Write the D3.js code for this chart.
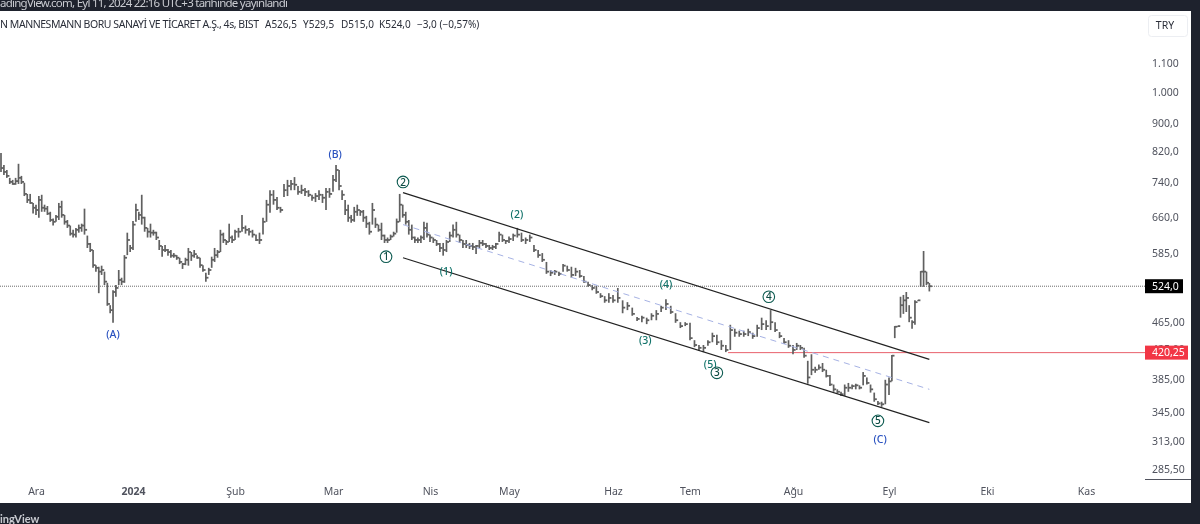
<!DOCTYPE html>
<html>

<head>
    <meta charset="utf-8">
    <script src="https://cdnjs.cloudflare.com/ajax/libs/d3/7.8.5/d3.min.js"></script>
</head>
<style>
    html, body { margin: 0; padding: 0; background: #fff; }
    svg { display: block; font-family: "Noto Sans", sans-serif; filter: blur(0.3px); }
</style>

<body>
    <script type="text/javascript">
        // 4h bars
        var highs = [
            816,784,771,751,746,751,787,756,739,712,712,691,
            687,707,710,687,684,671,656,664,691,696,664,653,641,632,636,643,645,678,620,605,591,562,559,561,550,530,492,517,526,553,539,581,626,601,
            651,689,671,710,660,636,645,632,628,611,599,601,593,591,585,581,576,566,576,595,587,591,581,576,562,548,557,578,595,591,632,626,611,645,620,
            632,636,664,641,636,632,622,626,658,698,721,721,705,682,736,746,746,753,731,734,726,721,710,714,721,712,726,726,
            758,784,771,721,698,687,664,682,687,675,675,662,649,691,658,643,647,622,616,622,628,656,712,687,671,653,643,618,616,620,649,647,
            622,616,611,605,605,611,628,643,649,622,611,611,605,605,601,611,611,605,601,601,605,628,622,611,
            618,624,636,626,616,622,601,591,585,568,553,553,550,564,561,559,557,553,542,532,526,525,512,507,512,
            509,521,500,497,488,473,475,472,479,484,491,502,491,479,465,465,
            464,438,431,431,438,449,446,438,431,461,455,452,452,455,449,461,472,468,484,465,450,441,438,
            431,434,431,427,409,418,401,404,406,397,390,378,372,369,378,380,378,379,377,394,387,378,368,358,357,384,
            387,417,459,459,506,509,514,492,468,500,500,551,589,550,529.5
        ];
        var lows = [
            766,758,751,736,734,734,736,736,707,691,689,667,
            664,658,671,671,664,649,641,649,653,658,643,636,620,616,616,626,628,622,595,587,557,550,512,544,526,491,479,464,506,526,526,530,581,587,
            591,649,653,643,628,616,616,620,611,591,578,587,580,576,576,572,564,555,562,561,570,576,574,557,550,532,544,557,568,576,587,605,601,607,605,
            611,616,628,624,620,616,609,603,622,649,669,687,675,669,705,707,721,721,710,712,707,705,696,693,698,691,675,703,
            717,741,721,698,664,649,647,649,662,662,649,636,622,643,636,628,611,605,605,611,618,626,649,658,643,622,611,605,605,605,611,616,
            607,605,599,587,580,587,607,616,616,605,595,595,593,591,583,595,599,595,591,591,593,607,607,603,
            605,609,616,607,603,607,587,576,568,546,542,544,542,550,550,539,542,539,530,523,517,511,504,496,496,
            496,496,479,484,475,467,465,462,468,468,481,484,478,464,456,459,
            438,428,423,421,430,435,431,424,421,424,443,443,443,444,440,443,453,453,453,450,441,433,427,
            418,424,424,413,379,390,393,397,394,387,376,369,367,364,364,369,372,372,372,377,378,368,357,353,351,354,
            365,382,441,458,472,478,481,465,455,461,499,523,523,526,515
        ];
        var closes = [
            776,766,756,741,736,743,751,741,712,698,691,680,
            675,698,680,678,667,653,649,660,682,664,649,641,624,622,632,636,641,632,603,591,562,557,550,553,532,494,484,514,521,535,532,576,611,595,
            643,675,664,658,636,628,626,626,616,599,591,591,587,580,580,576,568,564,572,587,580,583,576,562,553,539,553,572,581,587,622,611,607,616,611,
            628,628,636,632,628,622,611,611,649,687,710,698,680,675,721,731,736,734,717,721,717,710,703,707,710,703,717,712,
            746,771,731,710,675,658,653,671,675,671,658,645,628,675,643,632,620,611,611,618,624,649,687,664,649,632,616,611,611,616,636,622,
            616,611,603,595,591,607,620,632,622,611,603,601,599,597,599,605,603,599,595,597,603,622,611,609,
            613,620,622,611,611,616,591,581,572,550,548,550,546,561,553,544,550,542,532,526,521,514,507,500,504,
            500,504,488,491,478,470,472,468,475,478,488,494,481,468,459,462,
            441,431,427,427,435,444,435,430,424,453,449,447,447,450,444,456,462,459,465,453,444,435,430,
            424,430,427,416,387,397,397,400,397,389,378,372,369,366,374,374,376,377,374,389,380,372,360,355,354,378,
            382,416,458,459,492,500,504,472,465,497,500,550,550,530,524
        ];

        var monthLabels = ["Ara", "2024", "Şub", "Mar", "Nis", "May", "Haz", "Tem", "Ağu", "Eyl", "Eki", "Kas"];
        var monthBars = [12, 46, 81, 109, 141, 165, 190, 206, 229, 255, 289, 323];

        var priceTicks = [1100, 1000, 900, 820, 740, 660, 585, 465, 425, 385, 345, 313, 285.5];
        var priceTickLabels = ["1.100", "1.000", "900,0", "820,0", "740,0", "660,0", "585,0", "465,00", "425,00", "385,00", "345,00", "313,00", "285,50"];

        var lastPrice = 524, lastPriceLabel = "524,0";
        var levelPrice = 420.25, levelPriceLabel = "420,25", levelStartBar = 214.5;

        // channel: [bar, price] at both ends
        var channelUpper = [[132.1, 715], [269, 411]];
        var channelLower = [[132.1, 576], [269, 333]];
        var channelMiddle = [[132.1, 643], [269, 372]];

        // elliott wave marks
        var waveTexts = ["(A)", "(B)", "1", "2", "(2)", "(1)", "(4)", "(3)", "(5)", "3", "4", "5", "(C)"];
        var waveBars = [39, 109.7, 126.5, 132.1, 166.9, 145.9, 201, 196.7, 210.5, 212, 223.6, 252, 252.6];
        var wavePrices = [447, 813, 578, 741, 666, 551, 527, 438, 405, 393, 506, 335, 315.5];

        var titleName = "N MANNESMANN BORU SANAYİ VE TİCARET A.Ş., 4s, BIST";
        var titleValues = ["A526,5", "Y529,5", "D515,0", "K524,0", "−3,0 (−0,57%)"];
        var titleValueX = [265, 303, 341, 379, 417];
        var publishedText = "adingView.com, Eyl 11, 2024 22:16 UTC+3 tarihinde yayınlandı";

        var width = 1200, height = 524;
        var paneRight = 1145, frameRight = 1191, frameTop = 11, frameBottom = 503;

        var svg = d3.select("body").append("svg")
            .attr("width", width)
            .attr("height", height);

        // bar index -> pixel, the axis only has trading bars so months are not equal
        var x = d3.scaleLinear()
            .domain([0].concat(monthBars))
            .range([1, 36, 133, 235, 333, 430, 509, 613, 690, 793, 889, 987, 1086]);
        var y = d3.scaleLog().domain([285.5, 1100]).range([469, 63]);

        svg.append("rect").attr("width", width).attr("height", height).attr("fill", "#1e222d");
        svg.append("rect")
            .attr("x", 0).attr("y", frameTop)
            .attr("width", frameRight).attr("height", frameBottom - frameTop)
            .attr("fill", "#fff");

        svg.append("text")
            .attr("x", 0).attr("y", 7)
            .attr("font-size", 11.5)
            .attr("fill", "#c9cbd1")
            .attr("textLength", 288)
            .text(publishedText);
        // published line is cut by the white pane
        svg.append("rect")
            .attr("x", 0).attr("y", frameTop)
            .attr("width", frameRight).attr("height", 10)
            .attr("fill", "#fff");

        svg.append("text")
            .attr("x", 0).attr("y", 24)
            .attr("font-size", 10.5)
            .attr("fill", "#2a2e39")
            .attr("dy", "0.35em")
            .attr("textLength", 259)
            .text(titleName);
        svg.selectAll(".titleValue").data(titleValues).enter().append("text")
            .attr("class", "titleValue")
            .attr("x", function (d, i) { return titleValueX[i]; })
            .attr("y", 24)
            .attr("dy", "0.35em")
            .attr("font-size", 10)
            .attr("fill", "#2a2e39")
            .text(function (d) { return d; });

        // last price line
        svg.append("line")
            .attr("x1", 0).attr("x2", paneRight)
            .attr("y1", y(lastPrice)).attr("y2", y(lastPrice))
            .attr("stroke", "#6b6b6b")
            .attr("stroke-dasharray", "1,1");

        // level line
        svg.append("line")
            .attr("x1", x(levelStartBar)).attr("x2", paneRight)
            .attr("y1", y(levelPrice)).attr("y2", y(levelPrice))
            .attr("stroke", "#e8616c");

        // bars
        var bars = svg.append("g").attr("stroke", "#606060");
        bars.selectAll(".stem").data(highs).enter().append("line")
            .attr("class", "stem")
            .attr("x1", function (d, i) { return x(i); })
            .attr("x2", function (d, i) { return x(i); })
            .attr("y1", function (d) { return y(d); })
            .attr("y2", function (d, i) { return y(lows[i]); })
            .attr("stroke-width", 1.7);
        bars.selectAll(".closeTick").data(closes).enter().append("line")
            .attr("class", "closeTick")
            .attr("x1", function (d, i) { return x(i); })
            .attr("x2", function (d, i) { return x(i) + 2.6; })
            .attr("y1", function (d) { return y(d); })
            .attr("y2", function (d) { return y(d); })
            .attr("stroke-width", 1.8);

        // channel
        var channelLine = d3.line()
            .x(function (d) { return x(d[0]); })
            .y(function (d) { return y(d[1]); });
        svg.append("path").attr("d", channelLine(channelMiddle))
            .attr("fill", "none")
            .attr("stroke", "#a6b2e4")
            .attr("stroke-dasharray", "6,5");
        svg.selectAll(".channel").data([channelUpper, channelLower]).enter().append("path")
            .attr("class", "channel")
            .attr("d", channelLine)
            .attr("fill", "none")
            .attr("stroke", "#222")
            .attr("stroke-width", 1.2);

        // wave marks
        var waves = svg.selectAll(".wave").data(waveTexts).enter().append("g")
            .attr("class", "wave")
            .attr("transform", function (d, i) { return "translate(" + x(waveBars[i]) + "," + y(wavePrices[i]) + ")"; });
        waves.filter(function (d) { return d.length === 1; }).append("circle")
            .attr("r", 5.8)
            .attr("fill", "#fff")
            .attr("stroke", "#0c5a50")
            .attr("stroke-width", 1.1);
        waves.append("text")
            .attr("text-anchor", "middle")
            .attr("dy", "0.36em")
            .attr("font-size", function (d) { return d.length === 1 ? 10 : 10.5; })
            .attr("font-weight", 500)
            .attr("fill", function (d) {
                if (d === "(A)" || d === "(B)" || d === "(C)") return "#2a52c0";
                return d.length === 1 ? "#0c4a42" : "#12736a";
            })
            .text(function (d) { return d; });

        // price axis
        var priceAxis = d3.axisRight(y)
            .tickValues(priceTicks)
            .tickSize(0)
            .tickPadding(0)
            .tickFormat(function (d) { return priceTickLabels[priceTicks.indexOf(d)]; });
        var priceG = svg.append("g")
            .attr("transform", "translate(1152,0)")
            .call(priceAxis);
        priceG.select(".domain").remove();
        priceG.selectAll("text")
            .attr("font-size", 10.5)
            .attr("font-family", "'Noto Sans', sans-serif")
            .attr("fill", "#50535e");

        // time axis
        var timeAxis = d3.axisBottom(x)
            .tickValues(monthBars)
            .tickSize(0)
            .tickPadding(0)
            .tickFormat(function (d) { return monthLabels[monthBars.indexOf(d)]; });
        var timeG = svg.append("g")
            .attr("transform", "translate(0,488)")
            .call(timeAxis);
        timeG.select(".domain").remove();
        timeG.selectAll("text")
            .attr("font-size", 10.5)
            .attr("font-family", "'Noto Sans', sans-serif")
            .attr("fill", "#50535e")
            .attr("font-weight", function (d) { return monthLabels[monthBars.indexOf(d)] === "2024" ? "bold" : null; });

        svg.append("line")
            .attr("x1", paneRight).attr("x2", frameRight)
            .attr("y1", 479.5).attr("y2", 479.5)
            .attr("stroke", "#50535e");

        // price labels
        var priceBoxes = [
            { price: lastPrice, label: lastPriceLabel, fill: "#000", w: 38 },
            { price: levelPrice, label: levelPriceLabel, fill: "#f23645", w: 43 }
        ];
        var boxes = svg.selectAll(".priceBox").data(priceBoxes).enter().append("g")
            .attr("class", "priceBox")
            .attr("transform", function (d) { return "translate(" + paneRight + "," + y(d.price) + ")"; });
        boxes.append("rect")
            .attr("y", -7)
            .attr("width", function (d) { return d.w; })
            .attr("height", 14)
            .attr("fill", function (d) { return d.fill; });
        boxes.append("text")
            .attr("x", 7)
            .attr("dy", "0.35em")
            .attr("font-size", 10.5)
            .attr("fill", "#fff")
            .text(function (d) { return d.label; });

        // currency button
        svg.append("rect")
            .attr("x", 1148.5).attr("y", 15.5)
            .attr("width", 39).attr("height", 21)
            .attr("rx", 3)
            .attr("fill", "#fff")
            .attr("stroke", "#eceef2");
        svg.append("text")
            .attr("x", 1165).attr("y", 25)
            .attr("dy", "0.35em")
            .attr("text-anchor", "middle")
            .attr("font-size", 10.5)
            .attr("fill", "#2a2e39")
            .text("TRY");

        // footer
        svg.append("text")
            .attr("x", 0).attr("y", 523)
            .attr("font-family", "Lato, sans-serif")
            .attr("font-size", 11)
            .attr("font-weight", "bold")
            .attr("fill", "#c9cbd1")
            .text("ingView");
    </script>
</body>

</html>
